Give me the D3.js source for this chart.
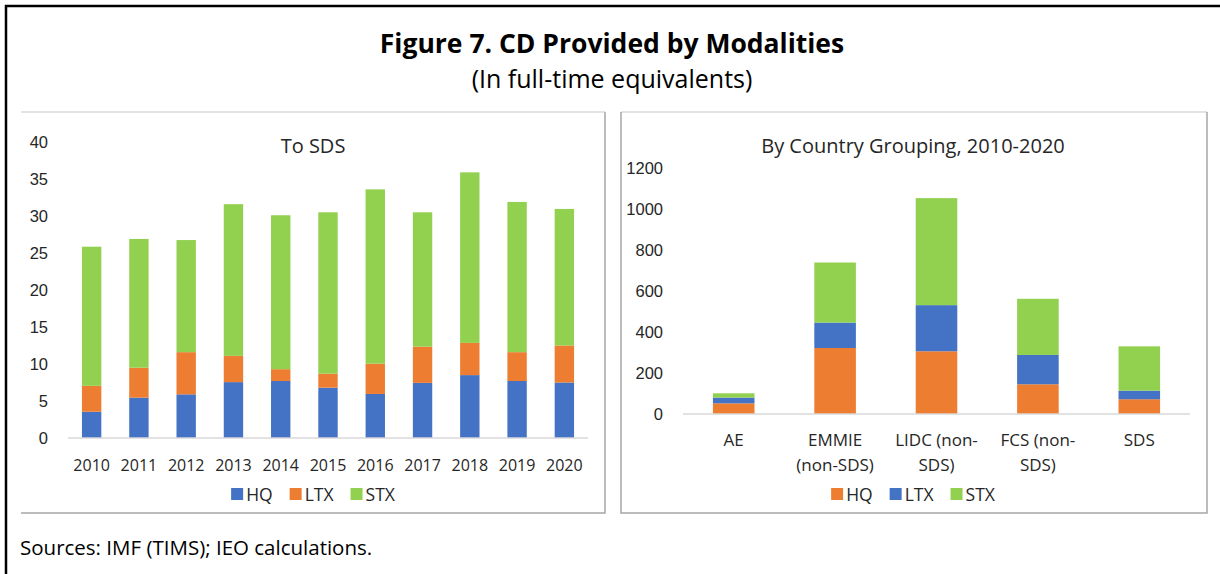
<!DOCTYPE html>
<html>
<head>
<meta charset="utf-8">
<script src="https://cdn.jsdelivr.net/npm/d3@7"></script>
<style>
  body { margin: 0; background: #fff; }
  svg { display: block; font-family: "Open Sans", "Noto Sans", sans-serif; }
  .tick text { fill: #262626; }
</style>
</head>
<body>
<svg id="chart" width="1220" height="574"></svg>
<script>
// Left panel: CD to SDS by year (FTE)
const years = ['2010', '2011', '2012', '2013', '2014', '2015', '2016', '2017', '2018', '2019', '2020'];
const sdsHQ  = [3.55, 5.45, 5.9, 7.55, 7.7, 6.8, 5.95, 7.45, 8.5, 7.7, 7.5];
const sdsLTX = [3.5, 4.05, 5.7, 3.55, 1.6, 1.9, 4.1, 4.9, 4.35, 3.9, 5.0];
const sdsSTX = [18.8, 17.4, 15.15, 20.5, 20.8, 21.8, 23.55, 18.15, 23.05, 20.3, 18.45];
const sdsTicks = [0, 5, 10, 15, 20, 25, 30, 35, 40];

// Right panel: by country grouping, 2010-2020
const groups = ['AE', 'EMMIE', 'LIDC', 'FCS', 'SDS'];
const groupLabels = [['AE'], ['EMMIE', '(non-SDS)'], ['LIDC (non-', 'SDS)'], ['FCS (non-', 'SDS)'], ['SDS']];
const grpHQ  = [52, 322, 306, 145, 72];
const grpLTX = [28, 124, 225, 143, 42];
const grpSTX = [21, 293, 522, 274, 216];
const grpTicks = [0, 200, 400, 600, 800, 1000, 1200];

const colors = { HQ: '#4472C4', LTX: '#ED7D31', STX: '#92D050' };
const colorsRight = { HQ: '#ED7D31', LTX: '#4472C4', STX: '#92D050' };
const keys = ['HQ', 'LTX', 'STX'];

const svg = d3.select('#chart');

// outer frame (only top and left edges are visible in the crop)
svg.append('path')
  .attr('d', 'M6,574 V6 H1220')
  .attr('fill', 'none')
  .attr('stroke', '#000')
  .attr('stroke-width', 2.5);

svg.append('text')
  .attr('x', 612).attr('y', 53)
  .attr('text-anchor', 'middle')
  .attr('font-size', 26.5).attr('font-weight', 700)
  .attr('fill', '#000')
  .text('Figure 7. CD Provided by Modalities');

svg.append('text')
  .attr('x', 612).attr('y', 88)
  .attr('text-anchor', 'middle')
  .attr('font-size', 25)
  .attr('fill', '#000')
  .text('(In full-time equivalents)');

svg.append('text')
  .attr('x', 20).attr('y', 555)
  .attr('font-size', 20.5)
  .attr('fill', '#000')
  .text('Sources: IMF (TIMS); IEO calculations.');

// draw a panel frame
function drawFrame(x0, y0, x1, y1, showLeft) {
  const g = svg.append('g');
  g.append('line').attr('x1', x0).attr('x2', x1).attr('y1', y0).attr('y2', y0)
    .attr('stroke', '#d9d9d9').attr('stroke-width', 1.5);
  g.append('path')
    .attr('d', `M${x1},${y0} V${y1} H${x0}` + (showLeft ? ` V${y0}` : ''))
    .attr('fill', 'none').attr('stroke', '#a6a6a6').attr('stroke-width', 1.5);
}

function drawPanel(opts) {
  const { cats, labels, series, ticks, yMax, palette, left, right, top, bottom, title, titleX } = opts;
  const rows = cats.map((c, i) => ({ cat: c, HQ: series.HQ[i], LTX: series.LTX[i], STX: series.STX[i] }));
  const stacked = d3.stack().keys(keys)(rows);

  const x = d3.scaleBand().domain(cats).range([left, right]).paddingInner(opts.pad).paddingOuter(opts.pad / 2);
  const y = d3.scaleLinear().domain([0, yMax]).range([bottom, top]);

  svg.append('text')
    .attr('x', titleX).attr('y', 153)
    .attr('text-anchor', 'middle')
    .attr('font-size', 20).attr('fill', '#262626')
    .text(title);

  const yAxis = svg.append('g')
    .attr('transform', `translate(${opts.yLabelX},0)`)
    .call(d3.axisLeft(y).tickValues(ticks).tickFormat(d3.format('d')).tickSize(0).tickPadding(0));
  yAxis.select('.domain').remove();
  yAxis.selectAll('text').attr('font-size', 16.5).attr('font-family', 'inherit');

  svg.append('g')
    .selectAll('g')
    .data(stacked)
    .join('g')
    .attr('fill', d => palette[d.key])
    .selectAll('rect')
    .data(d => d)
    .join('rect')
    .attr('x', d => x(d.data.cat))
    .attr('width', x.bandwidth())
    .attr('y', d => y(d[1]))
    .attr('height', d => y(d[0]) - y(d[1]));

  svg.append('line')
    .attr('x1', left).attr('x2', right)
    .attr('y1', y(0)).attr('y2', y(0))
    .attr('stroke', '#d9d9d9').attr('stroke-width', 1.5);

  const xl = svg.append('g');
  cats.forEach((c, i) => {
    const t = xl.append('text')
      .attr('x', x(c) + x.bandwidth() / 2)
      .attr('y', opts.catY)
      .attr('text-anchor', 'middle')
      .attr('font-size', opts.catSize).attr('fill', '#262626');
    labels[i].forEach((ln, j) => {
      t.append('tspan').attr('x', x(c) + x.bandwidth() / 2).attr('dy', j === 0 ? 0 : 25).text(ln);
    });
  });

  // legend
  const leg = svg.append('g');
  let lx = 0;
  keys.forEach(k => {
    const it = leg.append('g').attr('transform', `translate(${lx},0)`);
    it.append('rect').attr('x', 0).attr('y', -6).attr('width', 12).attr('height', 12).attr('fill', palette[k]);
    const tx = it.append('text').attr('x', 15).attr('y', 6.5)
      .attr('font-size', 17.5).attr('fill', '#262626').text(k);
    lx += 15 + tx.node().getComputedTextLength() + 17;
  });
  const legW = lx - 17;
  leg.attr('transform', `translate(${titleX - legW / 2},${opts.legY})`);
}

drawFrame(21, 112, 605, 513, false);
drawFrame(621, 112, 1207, 513, true);

drawPanel({
  cats: years, labels: years.map(d => [d]),
  series: { HQ: sdsHQ, LTX: sdsLTX, STX: sdsSTX },
  ticks: sdsTicks, yMax: 40, palette: colors,
  left: 68, right: 588, top: 142, bottom: 438, pad: 0.59,
  yLabelX: 48, catY: 471, catSize: 16, legY: 494,
  title: 'To SDS', titleX: 313
});

drawPanel({
  cats: groups, labels: groupLabels,
  series: { HQ: grpHQ, LTX: grpLTX, STX: grpSTX },
  ticks: grpTicks, yMax: 1200, palette: colorsRight,
  left: 683, right: 1190, top: 168, bottom: 414, pad: 0.59,
  yLabelX: 663, catY: 446, catSize: 17, legY: 494,
  title: 'By Country Grouping, 2010-2020', titleX: 913
});
</script>
</body>
</html>
